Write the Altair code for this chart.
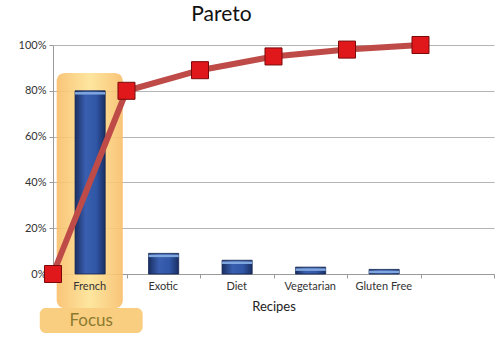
import altair as alt
import pandas as pd

# ---- data ----
categories = ["French", "Exotic", "Diet", "Vegetarian", "Gluten Free"]
shares = [0.80, 0.09, 0.06, 0.03, 0.02]
cum_pos = [0, 1, 2, 3, 4, 5]
cumulative = [0.0, 0.80, 0.89, 0.95, 0.98, 1.00]
y_ticks = [0, 0.2, 0.4, 0.6, 0.8, 1.0]
x_ticks = [0, 1, 2, 3, 4, 5, 6]

FONT = "Lato"

bars_df = pd.DataFrame({
    "cat": categories,
    "xm": [i + 0.5 for i in range(len(categories))],
    "x0": [i + 0.3 for i in range(len(categories))],
    "x1": [i + 0.71 for i in range(len(categories))],
    "share": shares,
    "zero": [0.0] * len(categories),
})
line_df = pd.DataFrame({"pos": cum_pos, "cum": cumulative})

# annotation (Focus highlight) in data units
focus_col = pd.DataFrame({"x0": [0.05], "x1": [0.95], "y0": [0.878], "y1": [-0.15]})
focus_box = pd.DataFrame({"x0": [-0.18], "x1": [1.22], "y0": [-0.148], "y1": [-0.258],
                          "xm": [0.52], "ym": [-0.205], "label": ["Focus"]})

x_scale = alt.Scale(domain=[0, 6], nice=False, zero=False)
y_scale = alt.Scale(domain=[0, 1], nice=False)

x_axis = alt.Axis(
    values=x_ticks, labels=False, tickSize=4, tickColor="#9a9a9a",
    domainColor="#9a9a9a", grid=False,
    title="Recipes", titleFontSize=13, titleFont=FONT, titleFontWeight="normal",
    titleColor="#222222", titlePadding=22,
)
y_axis = alt.Axis(
    values=y_ticks, format=".0%", tickSize=4, tickColor="#9a9a9a",
    domainColor="#9a9a9a", gridColor="#b5b5b5", grid=True,
    labelFontSize=11, labelColor="#333333", labelFont=FONT, labelPadding=3,
    title=None,
)

orange_grad = alt.Gradient(
    gradient="linear", x1=0, x2=1, y1=0, y2=0,
    stops=[alt.GradientStop(color="#F8BE6A", offset=0),
           alt.GradientStop(color="#FDE394", offset=0.5),
           alt.GradientStop(color="#F8BE6A", offset=1)],
)
blue_grad = alt.Gradient(
    gradient="linear", x1=0, x2=1, y1=0, y2=0,
    stops=[alt.GradientStop(color="#1A2F63", offset=0),
           alt.GradientStop(color="#3A5FB0", offset=0.35),
           alt.GradientStop(color="#3056A6", offset=0.7),
           alt.GradientStop(color="#1A2F63", offset=1)],
)

col = alt.Chart(focus_col).mark_rect(fill=orange_grad, cornerRadius=8, opacity=0.9, clip=False).encode(
    x=alt.X("x0:Q", scale=x_scale, axis=x_axis), x2="x1:Q",
    y=alt.Y("y0:Q", scale=y_scale, axis=y_axis), y2="y1:Q",
)
box = alt.Chart(focus_box).mark_rect(fill="#F9CB7A", cornerRadius=6, opacity=0.95, clip=False).encode(
    x=alt.X("x0:Q", scale=x_scale), x2="x1:Q",
    y=alt.Y("y0:Q", scale=y_scale), y2="y1:Q",
)
box_text = alt.Chart(focus_box).mark_text(font=FONT, fontSize=17, color="#8C7A2E", clip=False).encode(
    x=alt.X("xm:Q", scale=x_scale), y=alt.Y("ym:Q", scale=y_scale), text="label:N",
)
bars = alt.Chart(bars_df).mark_rect(fill=blue_grad, stroke="#14244F", strokeWidth=0.8).encode(
    x=alt.X("x0:Q", scale=x_scale), x2="x1:Q",
    y=alt.Y("share:Q", scale=y_scale), y2="zero:Q",
)
caps = alt.Chart(bars_df).mark_rule(color="#7FA6DE", strokeWidth=2.5, yOffset=2.5).encode(
    x=alt.X("x0:Q", scale=x_scale), x2="x1:Q",
    y=alt.Y("share:Q", scale=y_scale),
)
cat_labels = alt.Chart(bars_df).mark_text(font=FONT, fontSize=11, color="#333333",
                                          baseline="top", dy=7, clip=False).encode(
    x=alt.X("xm:Q", scale=x_scale), y=alt.Y("zero:Q", scale=y_scale), text="cat:N",
)
line = alt.Chart(line_df).mark_line(color="#BE4B48", strokeWidth=6, clip=False).encode(
    x=alt.X("pos:Q", scale=x_scale), y=alt.Y("cum:Q", scale=y_scale),
)
pts = alt.Chart(line_df).mark_square(size=290, fill="#E0181C", stroke="#7A0A0A",
                                     strokeWidth=1, opacity=1, clip=False).encode(
    x=alt.X("pos:Q", scale=x_scale), y=alt.Y("cum:Q", scale=y_scale),
)

chart = alt.layer(col, box, box_text, bars, caps, cat_labels, line, pts).properties(
    width=441, height=229,
    title=alt.TitleParams("Pareto", font=FONT, fontSize=21, fontWeight="normal",
                          color="#111111", anchor="middle", dx=-52, offset=8),
    padding={"left": 53, "top": 45, "right": 6, "bottom": 64},
    autosize=alt.AutoSizeParams(type="none"),
    background="white",
).configure_view(stroke=None)

chart.save("out.html", embed_options={"renderer": "svg", "actions": False})
